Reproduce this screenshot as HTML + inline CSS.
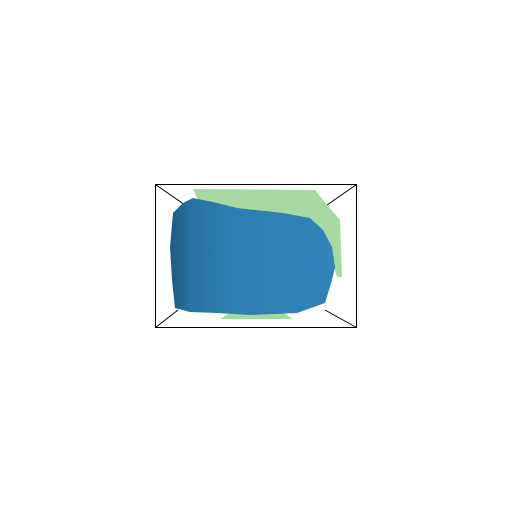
<!DOCTYPE html>
<html><head><style>html,body{margin:0;padding:0;background:#fff;width:512px;height:512px;overflow:hidden}</style></head>
<body>
<svg width="512" height="512" viewBox="0 0 512 512" xmlns="http://www.w3.org/2000/svg">
<defs>
<linearGradient id="bg" x1="0" y1="0" x2="1" y2="0">
<stop offset="0" stop-color="#1d5a82"/><stop offset="0.12" stop-color="#27709f"/><stop offset="0.35" stop-color="#2e7eb3"/><stop offset="1" stop-color="#3183b8"/>
</linearGradient>
</defs>
<g stroke="#000" stroke-width="1" fill="none">
<rect x="155.5" y="184.5" width="201" height="143"/>
<line x1="155.5" y1="184.5" x2="185" y2="205"/>
<line x1="356.5" y1="184.5" x2="327" y2="205"/>
<line x1="155.5" y1="327.5" x2="178" y2="310"/>
<line x1="356.5" y1="327.5" x2="325" y2="310"/>
</g>
<polygon fill="#a6d9a0" points="193,189 315,190 323,200 340,220 342,277 337,277 330,253 317,226 300,222 260,216 230,210 200,204"/>
<polygon fill="#a6d9a0" points="220,319 293,319 282,312 250,311 230,313"/>
<polygon fill="url(#bg)" points="193,198 213,202 237,208 283,213 310,218 323,230 332,247 335,267 332,280 325,303 297,313 250,315 217,313 190,312 175,308 172,280 170,247 173,213 183,203"/>
</svg>
</body></html>
